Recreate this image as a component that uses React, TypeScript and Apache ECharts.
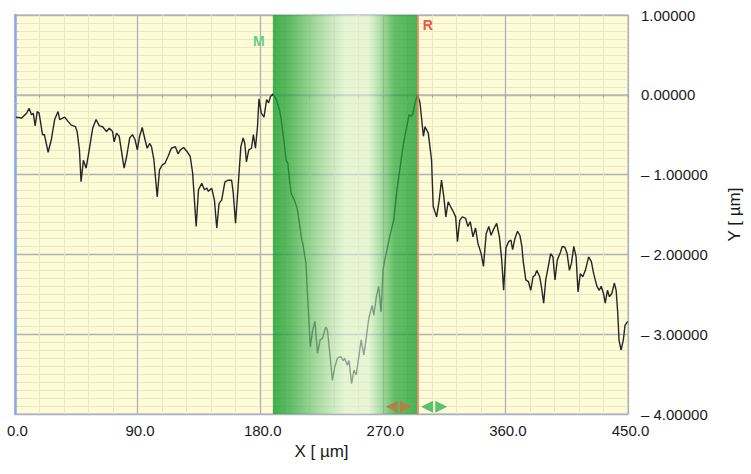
import * as echarts from 'echarts';
import { useEffect, useRef } from 'react';

// 轮廓数据 [X µm, Y µm]
const profileLeft: [number, number][] = [
  [0.7, -0.28], [4.9, -0.29], [8.5, -0.23], [10.4, -0.17], [12.1, -0.25], [13.4, -0.23],
  [14.8, -0.39], [16.3, -0.21], [17.7, -0.23], [20.2, -0.5], [21.6, -0.5], [24.3, -0.72],
  [26.7, -0.56], [29.1, -0.31], [31.6, -0.21], [32.8, -0.31], [36.4, -0.28], [38.8, -0.33],
  [41.3, -0.38], [44.4, -0.4], [45.6, -0.46], [47.3, -0.69], [48.5, -1.09], [50.2, -0.82],
  [52.2, -0.92], [54.1, -0.73], [57.0, -0.42], [59.5, -0.31], [61.9, -0.39], [64.3, -0.4],
  [67.2, -0.46], [69.2, -0.42], [71.6, -0.46], [72.8, -0.59], [74.5, -0.48], [76.5, -0.52],
  [80.1, -0.92], [82.0, -0.77], [84.2, -0.54], [86.2, -0.5], [88.1, -0.56], [89.8, -0.69],
  [91.5, -0.52], [93.4, -0.41], [95.4, -0.56], [97.1, -0.67], [98.8, -0.61], [100.2, -0.65],
  [102.0, -0.82], [104.4, -1.28], [106.1, -0.94], [108.0, -0.88], [110.0, -0.86], [112.4, -0.77],
  [114.8, -0.67], [117.7, -0.65], [119.7, -0.74], [121.4, -0.69], [123.8, -0.66], [126.2, -0.71],
  [128.6, -0.77], [130.4, -0.98], [133.0, -1.65], [134.7, -1.19], [137.1, -1.11], [139.1, -1.19],
  [140.8, -1.17], [142.0, -1.21], [144.4, -1.17], [146.4, -1.32], [148.1, -1.67], [149.8, -1.36],
  [151.7, -1.32], [154.1, -1.09], [156.6, -1.07], [159.0, -1.07], [160.2, -1.23], [161.9, -1.61],
  [163.8, -1.15], [165.8, -0.65], [167.5, -0.54], [168.7, -0.61], [169.9, -0.84], [171.6, -0.69],
  [173.6, -0.67], [175.0, -0.5], [176.5, -0.67], [178.0, -0.4], [179.1, -0.05], [180.8, -0.23],
  [182.8, -0.28], [184.7, -0.06], [186.2, -0.1], [187.6, -0.02], [189.3, 0.01],
];

const profileGroove: [number, number][] = [
  [191.8, -0.06], [194.2, -0.19], [195.4, -0.31], [197.3, -0.56], [199.0, -0.82], [200.3, -0.86],
  [201.5, -1.07], [202.7, -1.23], [203.9, -1.28], [205.1, -1.32], [207.1, -1.42], [208.8, -1.61],
  [210.5, -1.82], [211.2, -1.86], [213.6, -2.11], [214.8, -2.53], [216.8, -3.16], [218.5, -2.95],
  [220.2, -2.84], [222.1, -3.24], [224.0, -3.07], [225.7, -3.05], [228.2, -2.91], [229.4, -2.95],
  [231.3, -3.28], [233.0, -3.58], [234.7, -3.41], [236.7, -3.3], [239.1, -3.28], [241.0, -3.33],
  [242.0, -3.3], [244.0, -3.39], [245.2, -3.33], [247.1, -3.62], [248.8, -3.45], [250.5, -3.51],
  [252.4, -3.28], [254.1, -3.07], [256.1, -3.26], [258.0, -3.03], [259.7, -2.8], [262.2, -2.64],
  [263.4, -2.76], [265.3, -2.53], [267.0, -2.4], [268.7, -2.72], [270.2, -2.2], [271.4, -2.07],
  [273.1, -1.94], [275.0, -1.78], [278.0, -1.57], [280.4, -1.19], [282.8, -0.9], [285.2, -0.61],
  [287.6, -0.4], [289.3, -0.25], [290.6, -0.27], [291.8, -0.25], [293.7, -0.1], [295.5, 0.0],
];

const profileRight: [number, number][] = [
  [297.3, -0.1], [299.8, -0.52], [301.0, -0.4], [303.4, -0.48], [305.8, -0.82], [307.0, -1.4],
  [309.5, -1.53], [311.4, -1.32], [313.1, -1.07], [314.8, -1.28], [316.3, -1.53], [318.0, -1.34],
  [319.7, -1.4], [321.6, -1.46], [323.5, -1.53], [324.8, -1.84], [326.5, -1.57], [328.4, -1.53],
  [330.8, -1.55], [332.5, -1.65], [334.2, -1.59], [336.2, -1.78], [338.1, -1.67], [339.8, -1.86],
  [342.2, -1.99], [343.9, -2.15], [345.9, -1.74], [347.8, -1.65], [349.5, -1.76], [351.2, -1.69],
  [353.6, -1.61], [355.6, -1.78], [357.3, -2.07], [358.7, -2.45], [360.4, -1.92], [362.4, -1.84],
  [364.1, -1.82], [365.3, -1.94], [367.0, -1.8], [368.9, -1.71], [370.6, -1.76], [372.1, -1.9],
  [373.1, -2.09], [375.0, -2.32], [376.9, -2.34], [378.6, -2.45], [380.3, -2.28], [381.8, -2.26],
  [383.0, -2.2], [385.2, -2.28], [386.4, -2.4], [388.1, -2.61], [389.6, -2.32], [391.5, -2.15],
  [393.2, -1.99], [394.9, -2.03], [396.4, -2.32], [398.1, -2.07], [400.5, -1.97], [401.7, -1.9],
  [403.6, -1.91], [405.3, -1.99], [407.0, -2.2], [408.5, -2.11], [410.2, -1.9], [411.9, -2.03],
  [413.3, -2.47], [415.0, -2.24], [416.8, -2.28], [418.7, -2.2], [421.1, -2.03], [423.1, -2.09],
  [424.8, -2.24], [427.2, -2.4], [428.9, -2.45], [430.3, -2.4], [432.0, -2.49], [433.3, -2.61],
  [434.9, -2.45], [436.4, -2.53], [438.1, -2.49], [440.0, -2.36], [441.3, -2.45], [442.5, -2.74],
  [443.4, -3.07], [444.9, -3.2], [446.6, -3.07], [447.8, -2.89], [449.8, -2.84],
];

// 坐标轴刻度
const xTicks = [0, 90, 180, 270, 360, 450];
const yTicks = [-4, -3, -2, -1, 0, 1];

// 测量区间 (M..R) 以及标记
const grooveBand: [number, number] = [189.3, 295.5];
const cursorLabels = [
  { name: 'M', x: 179, y: 0.67, color: '#66ce83' },
  { name: 'R', x: 303, y: 0.88, color: '#f25545' },
];
const cursorArrows = [
  { x: 276.6, y: -3.91, dir: 'left', color: '#b0824a' },
  { x: 287.0, y: -3.91, dir: 'right', color: '#b0824a' },
  { x: 302.5, y: -3.91, dir: 'left', color: '#5cc071' },
  { x: 312.9, y: -3.91, dir: 'right', color: '#5cc071' },
];

const FONT = '"Liberation Sans", Arial, sans-serif';

const formatY = (v: number) =>
  v < 0 ? '\u2013 ' + Math.abs(v).toFixed(5) : v.toFixed(5);

const getOptions = (): echarts.EChartsOption => ({
  animation: false,
  backgroundColor: '#ffffff',
  grid: {
    left: 15,
    top: 15,
    right: 118,
    bottom: 60,
    show: true,
    backgroundColor: '#fefcd6',
    borderColor: '#c6c9cf',
    borderWidth: 1.5,
  },
  xAxis: {
    type: 'value',
    min: xTicks[0],
    max: xTicks[xTicks.length - 1],
    interval: xTicks[1] - xTicks[0],
    name: 'X [ µm]',
    nameLocation: 'middle',
    nameGap: 28,
    nameTextStyle: { fontFamily: FONT, fontSize: 17, color: '#1a1a1a' },
    axisLine: { show: true, lineStyle: { color: '#b9b9b9', width: 1.5 } },
    axisTick: { show: true, length: 3, lineStyle: { color: '#9a9a9a' } },
    minorTick: { show: true, splitNumber: 5, length: 3, lineStyle: { color: '#a8a8a8' } },
    axisLabel: {
      fontFamily: FONT,
      fontSize: 15,
      color: '#1a1a1a',
      margin: 9,
      padding: [0, 0, 0, 5],
      formatter: (v: number) => v.toFixed(1),
    },
    splitLine: { show: true, lineStyle: { color: '#aeb2b6', width: 1.3 } },
    minorSplitLine: { show: true, lineStyle: { color: '#e9e7c6', width: 1 } },
  },
  yAxis: [
    {
      type: 'value',
      position: 'right',
      min: yTicks[0],
      max: yTicks[yTicks.length - 1],
      interval: 1,
      name: 'Y [ µm]',
      nameLocation: 'middle',
      nameGap: 98,
      nameTextStyle: { fontFamily: FONT, fontSize: 17, color: '#1a1a1a' },
      axisLine: { show: true, lineStyle: { color: '#c6c6c6', width: 1.5 } },
      axisTick: { show: false },
      minorTick: { show: true, splitNumber: 10, length: 3, lineStyle: { color: '#b8b8b8' } },
      axisLabel: {
        fontFamily: FONT,
        fontSize: 15,
        color: '#1a1a1a',
        margin: 13,
        formatter: formatY,
      },
      splitLine: { show: true, lineStyle: { color: '#aeb2b6', width: 1.3 } },
      minorSplitLine: { show: true, lineStyle: { color: '#e9e7c6', width: 1 } },
    },
    {
      // 左侧蓝色边线
      type: 'value',
      position: 'left',
      min: yTicks[0],
      max: yTicks[yTicks.length - 1],
      axisLine: { show: true, onZero: false, lineStyle: { color: '#86acea', width: 2.5 } },
      axisTick: { show: false },
      axisLabel: { show: false },
      splitLine: { show: false },
    },
  ],
  series: [
    {
      name: 'profile',
      type: 'line',
      z: 2,
      showSymbol: false,
      symbol: 'none',
      data: [...profileLeft, ...profileGroove, ...profileRight],
      lineStyle: { color: '#262626', width: 1.4 },
    },
    {
      name: 'band',
      type: 'line',
      z: 4,
      data: [],
      markArea: {
        silent: true,
        z: 5,
        itemStyle: {
          opacity: 1,
          color: new echarts.graphic.LinearGradient(0, 0, 1, 0, [
            { offset: 0, color: 'rgba(20,155,45,0.8)' },
            { offset: 0.12, color: 'rgba(40,165,60,0.74)' },
            { offset: 0.5, color: 'rgba(215,240,212,0.6)' },
            { offset: 0.66, color: 'rgba(215,240,212,0.6)' },
            { offset: 0.84, color: 'rgba(40,165,60,0.72)' },
            { offset: 1, color: 'rgba(25,158,48,0.78)' },
          ]),
        },
        data: [[{ xAxis: grooveBand[0] }, { xAxis: grooveBand[1] }]],
      },
      markLine: {
        silent: true,
        z: 6,
        symbol: 'none',
        label: { show: false },
        lineStyle: { color: '#f07a55', width: 1.5, type: 'solid' },
        data: [{ xAxis: grooveBand[1] }],
      },
      markPoint: {
        silent: true,
        z: 7,
        data: [
          ...cursorLabels.map(c => ({
            coord: [c.x, c.y],
            symbol: 'rect',
            symbolSize: 1,
            itemStyle: { color: 'rgba(0,0,0,0)' },
            label: {
              show: true,
              position: 'inside' as const,
              formatter: c.name,
              color: c.color,
              fontFamily: FONT,
              fontWeight: 'bold' as const,
              fontSize: 14,
            },
          })),
          ...cursorArrows.map(a => ({
            coord: [a.x, a.y],
            symbol: 'triangle',
            symbolSize: [12, 12],
            symbolRotate: a.dir === 'left' ? 90 : -90,
            itemStyle: { color: a.color },
            label: { show: false },
          })),
        ],
      },
    },
  ],
});

function ProfileChart() {
  const chartRef = useRef<HTMLDivElement>(null);

  useEffect(() => {
    if (!chartRef.current) return;
    const chart = echarts.init(chartRef.current, undefined, { renderer: 'svg' });
    chart.setOption(getOptions());
    return () => {
      chart.dispose();
    };
  }, []);

  return (
    <div
      ref={chartRef}
      style={{ position: 'absolute', left: 0, top: 0, width: 751, height: 474 }}
    />
  );
}

export default function App() {
  return <ProfileChart />;
}
